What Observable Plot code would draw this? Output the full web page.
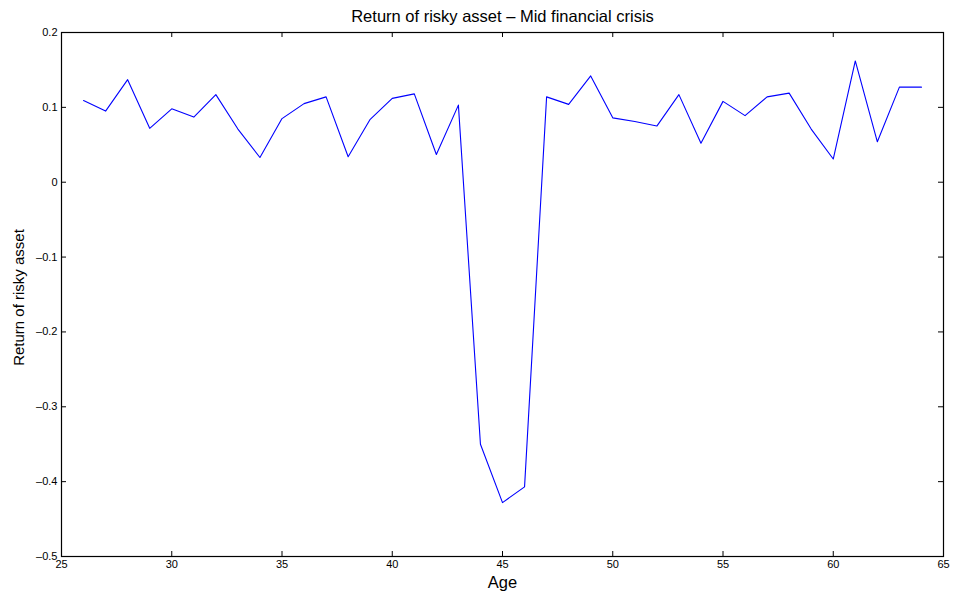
<!DOCTYPE html>
<html>
<head>
<meta charset="utf-8">
<script src="https://cdn.jsdelivr.net/npm/d3@7"></script>
<script src="https://cdn.jsdelivr.net/npm/@observablehq/plot@0.6"></script>
<style>
  body { margin: 0; background: #fff; }
</style>
</head>
<body>
<div id="chart"></div>
<script>
const ages = [26,27,28,29,30,31,32,33,34,35,36,37,38,39,40,41,42,43,44,45,46,47,48,49,50,51,52,53,54,55,56,57,58,59,60,61,62,63,64];
const returns = [0.109,0.095,0.137,0.072,0.098,0.087,0.117,0.071,0.033,0.085,0.105,0.114,0.034,0.084,0.112,0.118,0.037,0.103,-0.350,-0.428,-0.407,0.114,0.104,0.142,0.086,0.081,0.075,0.117,0.052,0.108,0.089,0.114,0.119,0.071,0.031,0.162,0.054,0.127,0.127];
const xTicks = [25,30,35,40,45,50,55,60,65];
const yTicks = [-0.5,-0.4,-0.3,-0.2,-0.1,0,0.1,0.2];
const title = "Return of risky asset \u2013 Mid financial crisis";
const xLabel = "Age";
const yLabel = "Return of risky asset";

const data = ages.map((a, i) => ({age: a, ret: returns[i]}));
const fmt = v => v === 0 ? "0" : (v < 0 ? "\u2013" + String(Math.abs(v)) : String(v));

const W = 955, H = 595, mL = 61, mR = 12, mT = 32, mB = 39;
const fw = W - mL - mR, fh = H - mT - mB, tl = 5;

const chart = Plot.plot({
  width: W, height: H,
  marginLeft: mL, marginRight: mR, marginTop: mT, marginBottom: mB,
  style: { fontFamily: "'Liberation Sans', Arial, Helvetica, sans-serif", fontSize: "11px", color: "#000", background: "#fff" },
  x: { domain: [25, 65] },
  y: { domain: [-0.5, 0.2] },
  marks: [
    Plot.line(data, { x: "age", y: "ret", stroke: "#0000ff", strokeWidth: 1.1 }),
    Plot.tickX(xTicks, { x: d => d, insetTop: fh - tl, stroke: "#000" }),
    Plot.tickX(xTicks, { x: d => d, insetBottom: fh - tl, stroke: "#000" }),
    Plot.tickY(yTicks, { y: d => d, insetRight: fw - tl, stroke: "#000" }),
    Plot.tickY(yTicks, { y: d => d, insetLeft: fw - tl, stroke: "#000" }),
    Plot.frame({ stroke: "#000", strokeWidth: 1.2 }),
    Plot.axisX(xTicks, { tickSize: 0, tickPadding: 4, label: null, fontSize: 11, tickFormat: d => String(d) }),
    Plot.axisY(yTicks, { tickSize: 0, tickPadding: 4, label: null, fontSize: 11, tickFormat: fmt }),
    Plot.text([title], { frameAnchor: "top", lineAnchor: "middle", dy: -16, fontSize: 16.5, fill: "#000" }),
    Plot.text([xLabel], { frameAnchor: "bottom", lineAnchor: "middle", dy: 26, fontSize: 16.5, fill: "#000" }),
    Plot.text([yLabel], { frameAnchor: "left", textAnchor: "middle", dx: -42, dy: 3, rotate: -90, fontSize: 15, fill: "#000" })
  ]
});
document.getElementById("chart").appendChild(chart);
</script>
</body>
</html>
